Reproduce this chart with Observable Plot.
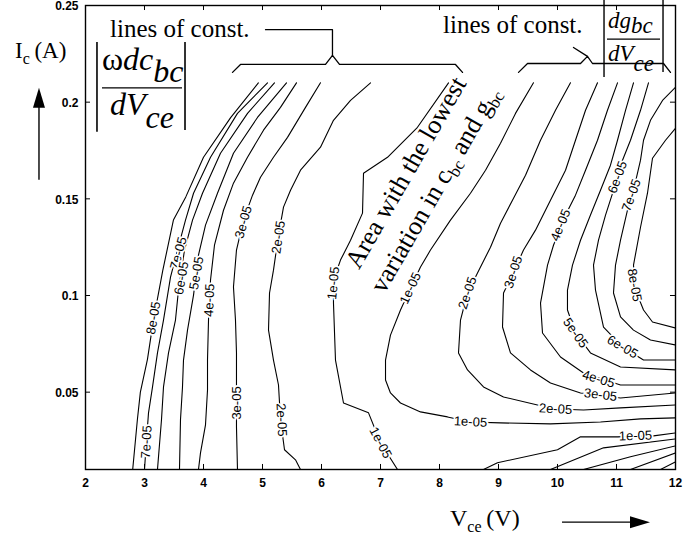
<!DOCTYPE html>
<html>
<head>
<meta charset="utf-8">
<script src="https://cdn.jsdelivr.net/npm/d3@7"></script>
<script src="https://cdn.jsdelivr.net/npm/@observablehq/plot@0.6"></script>
<style>
  body { margin: 0; background: #fff; }
  svg { display: block; }
</style>
</head>
<body>
<div id="chart"></div>
<script>
// ---- Axes -------------------------------------------------------------
const xTicks = [2, 3, 4, 5, 6, 7, 8, 9, 10, 11, 12];
const xTickLabels = ["2", "3", "4", "5", "6", "7", "8", "9", "10", "11", "12"];
const yTicks = [0.05, 0.1, 0.15, 0.2, 0.25];
const yTickLabels = ["0.05", "0.1", "0.15", "0.2", "0.25"];
const innerXTicks = [3, 4, 5, 6, 7, 8, 9, 10, 11];
const innerYTicks = [0.05, 0.1, 0.15, 0.2];

// ---- Contours of |w dc_bc / dVce|  (Vce in V, Ic in A) -------------------
const cbc8 = [[4.93,0.21],[4.46,0.192],[4.0,0.1715],[3.7,0.151],[3.49,0.139],[3.31,0.113],[3.15,0.087],[3.05,0.067],[2.93,0.05],[2.88,0.036],[2.8,0.01]];
const cbc7 = [[5.085,0.21],[4.576,0.1942],[4.119,0.1715],[3.831,0.1529],[3.695,0.139],[3.559,0.1235],[3.441,0.1095],[3.322,0.0873],[3.22,0.0703],[3.136,0.0527],[3.068,0.0393],[3.034,0.0253],[3.0,0.01]];
const cbc6 = [[5.203,0.21],[4.746,0.1942],[4.288,0.1736],[3.983,0.1529],[3.814,0.139],[3.678,0.1235],[3.576,0.1028],[3.525,0.0873],[3.407,0.0703],[3.322,0.0527],[3.288,0.0357],[3.22,0.01]];
const cbc5 = [[5.407,0.21],[4.915,0.1921],[4.508,0.1736],[4.237,0.1529],[4.034,0.1364],[3.915,0.1209],[3.831,0.1002],[3.729,0.0821],[3.661,0.0666],[3.644,0.0527],[3.61,0.0357],[3.593,0.01]];
const cbc4 = [[5.576,0.21],[5.305,0.1973],[5.017,0.1855],[4.746,0.1715],[4.508,0.1581],[4.339,0.1441],[4.186,0.126],[4.119,0.108],[4.085,0.0873],[4.068,0.0666],[4.068,0.0511],[4.034,0.0331],[3.949,0.0186],[3.915,0.01]];
const cbc3 = [[5.983,0.21],[5.729,0.1973],[5.424,0.1818],[5.186,0.1715],[4.966,0.1612],[4.831,0.1519],[4.678,0.139],[4.559,0.1235],[4.508,0.1044],[4.542,0.0873],[4.559,0.0703],[4.559,0.0511],[4.559,0.032],[4.576,0.01]];
const cbc2 = [[6.831,0.21],[6.492,0.2009],[6.203,0.1906],[5.983,0.1767],[5.644,0.1648],[5.475,0.1544],[5.356,0.1457],[5.271,0.1312],[5.186,0.1131],[5.119,0.1013],[5.102,0.0821],[5.186,0.0666],[5.271,0.0537],[5.305,0.0357],[5.373,0.0202],[5.559,0.015],[5.644,0.01]];
const cbc1 = [[8.153,0.21],[7.627,0.187],[7.119,0.1715],[6.712,0.1632],[6.695,0.1426],[6.492,0.1286],[6.322,0.1183],[6.203,0.108],[6.203,0.0961],[6.237,0.0666],[6.373,0.0444],[6.797,0.0393],[7.0,0.0238],[7.288,0.01]];

// ---- Contours of |dg_bc / dVce| ----------------------------------------
const gbc1 = [[9.593,0.21],[9.288,0.1942],[9.034,0.1787],[8.78,0.1648],[8.525,0.1529],[8.186,0.139],[7.847,0.1235],[7.678,0.1147],[7.508,0.1038],[7.339,0.0925],[7.169,0.0795],[7.085,0.0666],[7.085,0.0563],[7.169,0.0496],[7.339,0.0444],[7.678,0.0398],[8.136,0.0372],[8.525,0.0346],[9.034,0.0341],[9.881,0.0336],[10.729,0.0346],[11.407,0.0362],[12,0.0367]];
const gbc2 = [[10.22,0.21],[9.966,0.1958],[9.712,0.1803],[9.458,0.1622],[9.237,0.1493],[9.034,0.1374],[8.864,0.125],[8.644,0.1116],[8.475,0.1013],[8.356,0.0873],[8.322,0.0703],[8.475,0.0615],[8.746,0.0527],[9.085,0.0475],[9.661,0.0434],[9.966,0.0413],[10.441,0.0408],[11.068,0.0419],[12,0.0434]];
const gbc3 = [[10.678,0.21],[10.475,0.1958],[10.305,0.1803],[10.136,0.1648],[9.881,0.1493],[9.627,0.1338],[9.424,0.1235],[9.254,0.1121],[9.085,0.1013],[9.068,0.0837],[9.203,0.0703],[9.542,0.0615],[9.881,0.0547],[10.39,0.0496],[11.068,0.047],[12,0.0496]];
const gbc4 = [[11.017,0.21],[10.847,0.1958],[10.678,0.1803],[10.475,0.1648],[10.305,0.1519],[10.136,0.1416],[9.932,0.126],[9.831,0.1157],[9.712,0.0961],[9.746,0.0806],[10.051,0.0682],[10.441,0.0599],[11.068,0.0537],[12,0.0537]];
const gbc5 = [[11.288,0.21],[11.153,0.1958],[11.017,0.1803],[10.898,0.1674],[10.729,0.1544],[10.559,0.1416],[10.39,0.1286],[10.254,0.1157],[10.169,0.1028],[10.169,0.0925],[10.305,0.0806],[10.559,0.0703],[11.068,0.063],[12,0.0615]];
const gbc6 = [[11.542,0.21],[11.407,0.1958],[11.237,0.1803],[11.068,0.1674],[10.949,0.1544],[10.814,0.1416],[10.695,0.1286],[10.61,0.1157],[10.644,0.1028],[10.78,0.0837],[11.102,0.0734],[11.458,0.0666],[12,0.0666]];
const gbc7 = [[12,0.2077],[11.78,0.2009],[11.576,0.1906],[11.458,0.1803],[11.407,0.17],[11.288,0.1544],[11.186,0.1441],[11.068,0.1286],[10.983,0.1157],[10.949,0.1013],[11.068,0.0889],[11.288,0.0821],[11.576,0.077],[12,0.0744]];
const gbc8 = [[12,0.1865],[11.831,0.1803],[11.61,0.171],[11.525,0.1529],[11.407,0.1353],[11.288,0.1157],[11.322,0.1028],[11.458,0.0925],[11.61,0.0863],[12,0.0832]];
// lower-right corner
const gbcLow1 = [[8.746,0.01],[8.983,0.0135],[10.0,0.0202],[10.39,0.0269],[11.017,0.0269],[11.627,0.0274],[12,0.0289]];
const gbcLow2 = [[9.881,0.01],[10.78,0.0212],[12,0.0258]];
const gbcLow3 = [[10.441,0.01],[11.237,0.0166],[12,0.0222]];
const gbcLow4 = [[11.237,0.01],[12,0.0186]];
const gbcLow5 = [[11.746,0.01],[12,0.014]];

const contourLines = [cbc8, cbc7, cbc6, cbc5, cbc4, cbc3, cbc2, cbc1,
  gbc1, gbc2, gbc3, gbc4, gbc5, gbc6, gbc7, gbc8,
  gbcLow1, gbcLow2, gbcLow3, gbcLow4, gbcLow5];

// ---- Inline contour labels: text, Vce, Ic, angle ---------------------------
const cbcLabels = [
  ["8e-05", 3.153, 0.0884, -80], ["7e-05", 3.576, 0.1219, -75],
  ["6e-05", 3.627, 0.1090, -80], ["5e-05", 3.881, 0.1116, -80],
  ["4e-05", 4.102, 0.0976, -88], ["3e-05", 4.678, 0.1380, -74],
  ["2e-05", 5.271, 0.1302, -82], ["1e-05", 6.203, 0.1064, -84],
  ["7e-05", 3.034, 0.0243, -87], ["3e-05", 4.559, 0.0444, -90],
  ["2e-05", 5.322, 0.0357, 87], ["1e-05", 7.0, 0.0238, 62]
];
const gbcLabels = [
  ["1e-05", 7.508, 0.1038, -65], ["2e-05", 8.475, 0.1013, -72],
  ["3e-05", 9.254, 0.1121, -72], ["4e-05", 10.051, 0.1364, -68],
  ["6e-05", 11.017, 0.1612, -70], ["7e-05", 11.254, 0.1519, -70],
  ["8e-05", 11.305, 0.1054, 80], ["5e-05", 10.305, 0.0806, 55],
  ["6e-05", 11.102, 0.0734, 30], ["4e-05", 10.695, 0.0568, 17],
  ["3e-05", 10.729, 0.0486, 7], ["2e-05", 9.966, 0.0413, 3],
  ["1e-05", 8.525, 0.0346, 3], ["1e-05", 11.322, 0.0274, -2]
];

// ---- Annotation geometry (data units) ----------------------------------
const braceLeft = [[4.492,0.2154],[4.627,0.2195],[6.068,0.2195],[6.186,0.2242],[6.305,0.2195],[8.271,0.2195],[8.39,0.2154]];
const leaderLeft = [[5.051,0.2375],[6.186,0.2375],[6.186,0.2242]];
const braceRight = [[9.339,0.2154],[9.492,0.22],[10.39,0.22],[10.508,0.2237],[10.593,0.22],[11.797,0.22],[11.915,0.2154]];
const leaderRight = [[10.271,0.2283],[10.508,0.2237]];

const rows = contourLines.flatMap((pts, k) => pts.map(([V, I]) => ({V, I, k})));
const labelRows = [...cbcLabels, ...gbcLabels].map(([t, V, I, r]) => ({t, V, I, r}));
const toRows = (pts) => pts.map(([V, I]) => ({V, I}));

const plot = Plot.plot({
  width: 700,
  height: 538,
  marginLeft: 85,
  marginRight: 25,
  marginTop: 5,
  marginBottom: 69,
  x: {domain: [2, 12]},
  y: {domain: [0.01, 0.25]},
  style: {fontFamily: "'Liberation Sans', Arial, sans-serif", background: "white", color: "black"},
  marks: [
    Plot.line(rows, {x: "V", y: "I", z: "k", stroke: "black", strokeWidth: 1.1, clip: true}),
    Plot.text(labelRows, {
      x: "V", y: "I", text: "t", rotate: "r",
      fontSize: 13, fill: "black", stroke: "white", strokeWidth: 3.5, paintOrder: "stroke"
    }),
    // inward tick marks on all four sides
    Plot.ruleX(innerXTicks, {x: d => d, y1: 0.01, y2: 0.0126, stroke: "black"}),
    Plot.ruleX(innerXTicks, {x: d => d, y1: 0.25, y2: 0.2474, stroke: "black"}),
    Plot.ruleY(innerYTicks, {y: d => d, x1: 2, x2: 2.085, stroke: "black"}),
    Plot.ruleY(innerYTicks, {y: d => d, x1: 12, x2: 11.915, stroke: "black"}),
    Plot.frame({stroke: "black", strokeWidth: 1.4}),
    Plot.axisX({
      ticks: xTicks, tickSize: 0, tickPadding: 9, label: null, fontSize: 12,
      tickFormat: d => xTickLabels[xTicks.indexOf(d)]
    }),
    Plot.axisY({
      ticks: yTicks, tickSize: 0, tickPadding: 7, label: null, fontSize: 12, dy: 1,
      tickFormat: d => yTickLabels[yTicks.findIndex(t => Math.abs(t - d) < 1e-9)]
    }),
    // braces and leaders for the "lines of const." notes
    Plot.line(toRows(braceLeft), {x: "V", y: "I", stroke: "black", strokeWidth: 1.3}),
    Plot.line(toRows(leaderLeft), {x: "V", y: "I", stroke: "black", strokeWidth: 1.3}),
    Plot.line(toRows(braceRight), {x: "V", y: "I", stroke: "black", strokeWidth: 1.3}),
    Plot.line(toRows(leaderRight), {x: "V", y: "I", stroke: "black", strokeWidth: 1.3})
  ]
});

// Tick labels in a heavier face
d3.select(plot).selectAll("g[aria-label$='tick label'] text").attr("font-weight", "bold");

const X = plot.scale("x").apply;
const Y = plot.scale("y").apply;
const svg = d3.select(plot);
const notes = svg.append("g")
  .attr("font-family", "'Liberation Serif', 'Times New Roman', serif")
  .attr("text-anchor", "start")
  .attr("fill", "black");

// text made of runs; each run: [string, baseline shift px, italic, size]
function richText(V, I, runs, size) {
  const t = notes.append("text").attr("x", X(V)).attr("y", Y(I)).attr("font-size", size);
  let shift = 0;
  for (const [s, sh, italic, sz] of runs) {
    t.append("tspan")
      .attr("dy", sh - shift)
      .attr("font-style", italic ? "italic" : "normal")
      .attr("font-size", sz || size)
      .text(s);
    shift = sh;
  }
  return t;
}
function seg(V1, I1, V2, I2, w) {
  notes.append("line")
    .attr("x1", X(V1)).attr("y1", Y(I1)).attr("x2", X(V2)).attr("y2", Y(I2))
    .attr("stroke", "black").attr("stroke-width", w || 1.3);
}

// Axis titles
richText(0.814, 0.2226, [["I", 0], ["c", 6, false, 16], ["\u2009(A)", 0]], 23);
richText(8.186, -0.0196, [["V", 0], ["ce", 6, false, 16], ["\u2009(V)", 0]], 24);

// direction arrows
seg(1.22, 0.1596, 1.22, 0.2010, 1.4);
notes.append("path")
  .attr("d", `M${X(1.22)},${Y(0.2072)} L${X(1.22) - 6},${Y(0.2072) + 20} L${X(1.22) + 6},${Y(0.2072) + 20} Z`);
seg(10.085, -0.0175, 11.30, -0.0175, 1.4);
notes.append("path")
  .attr("d", `M${X(11.576)},${Y(-0.0175)} L${X(11.576) - 20},${Y(-0.0175) - 6} L${X(11.576) - 20},${Y(-0.0175) + 6} Z`);

// |w dc_bc / dVce|
richText(2.288, 0.2164, [["\u03C9", 0, false], ["dc", 0, true], ["bc", 12, true]], 32);
richText(2.424, 0.1932, [["dV", 0, true], ["ce", 13, true]], 32);
seg(2.288, 0.2071, 3.644, 0.2071, 1.3);
seg(2.203, 0.2309, 2.203, 0.1844, 1.6);
seg(3.695, 0.2309, 3.695, 0.1854, 1.6);

// |dg_bc / dVce|
richText(10.864, 0.2381, [["dg", 0, true], ["bc", 5, true]], 23);
richText(10.864, 0.2211, [["dV", 0, true], ["ce", 10, true]], 23);
seg(10.847, 0.2324, 11.746, 0.2324, 1.2);
seg(10.797, 0.2526, 10.797, 0.2128, 1.4);
seg(11.797, 0.2526, 11.797, 0.2154, 1.4);

// "lines of const." notes
richText(2.424, 0.2335, [["lines of const.", 0]], 25);
richText(8.068, 0.2355, [["lines of const.", 0]], 25);

// rotated note across the valley between the two families
const area = notes.append("text")
  .attr("transform", `translate(${X(7.56)},${Y(0.1612)}) rotate(-60)`)
  .attr("text-anchor", "middle")
  .attr("font-size", 26);
area.append("tspan").attr("x", 0).attr("dy", 0).text("Area with the lowest");
area.append("tspan").attr("x", 0).attr("dy", 34).text("variation in c");
area.append("tspan").attr("font-size", 17).attr("dy", 5).text("bc");
area.append("tspan").attr("dy", -5).text(" and g");
area.append("tspan").attr("font-size", 17).attr("dy", 5).text("bc");

document.getElementById("chart").appendChild(plot);
</script>
</body>
</html>
